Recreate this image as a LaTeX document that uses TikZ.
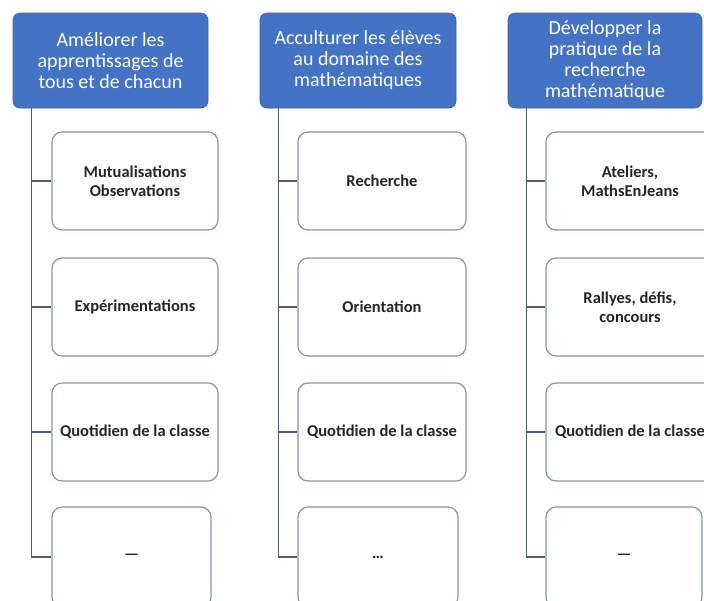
\documentclass[tikz,border=0pt]{standalone}
\usepackage{fontspec}
\setmainfont{Carlito}
\definecolor{headblue}{HTML}{4472C4}
\definecolor{boxline}{HTML}{8A96AE}
\definecolor{connline}{HTML}{4F5B78}
\definecolor{boxtext}{HTML}{262626}
\tikzset{
  head/.style={fill=headblue, draw=headblue!85!black, line width=0.6pt, rounded corners=7pt,
    text=white, align=center, font=\fontsize{20}{21}\selectfont, inner sep=0pt,
    minimum height=95pt},
  child/.style={fill=white, draw=boxline, line width=1.2pt, rounded corners=10pt,
    text=boxtext, align=center, font=\fontsize{16.5}{19}\selectfont\bfseries, inner sep=0pt,
    minimum height=98pt},
  conn/.style={draw=connline, line width=1.5pt}
}
\begin{document}
\begin{tikzpicture}[x=1pt,y=-1pt]
\useasboundingbox (0,0) rectangle (704,600);
\fill[white] (0,0) rectangle (704,600);
\clip (0,0) rectangle (704,600);

% headers
\node[head, minimum width=195pt] (h1) at (110.5,60.5) {Améliorer les\\apprentissages de\\tous et de chacun};
\node[head, minimum width=196pt] (h2) at (358,60.5) {Acculturer les élèves\\au domaine des\\mathématiques};
\node[head, minimum width=194pt] (h3) at (605,60.5) {Développer la\\pratique de la\\recherche\\mathématique};

% column 1
\node[child, minimum width=166pt] (c11) at (135,181) {Mutualisations\\Observations};
\node[child, minimum width=166pt] (c12) at (135,307) {Expérimentations};
\node[child, minimum width=166pt] (c13) at (135,432) {Quotidien de la classe};
\node[child, minimum width=159pt, minimum height=100pt] (c14) at (131.5,557) {—};

% column 2
\node[child, minimum width=168pt] (c21) at (382,181) {Recherche};
\node[child, minimum width=168pt] (c22) at (382,307) {Orientation};
\node[child, minimum width=168pt] (c23) at (382,432) {Quotidien de la classe};
\node[child, minimum width=160pt, minimum height=100pt] (c24) at (378,557) {…};

% column 3
\node[child, minimum width=168pt] (c31) at (630,181) {Ateliers,\\MathsEnJeans};
\node[child, minimum width=168pt] (c32) at (630,307) {Rallyes, défis,\\concours};
\node[child, minimum width=168pt] (c33) at (630,432) {Quotidien de la classe};
\node[child, minimum width=156pt, minimum height=100pt] (c34) at (624,557) {—};

% connectors
\coordinate (v1) at ([xshift=19pt]h1.south west);
\coordinate (v2) at ([xshift=19pt]h2.south west);
\coordinate (v3) at ([xshift=19pt]h3.south west);
\foreach \c in {1,2,3}{
  \draw[conn] (v\c) |- (c\c4.west);
  \foreach \r in {1,2,3}{
    \draw[conn] (v\c |- c\c\r.west) -- (c\c\r.west);
  }
}
\end{tikzpicture}
\end{document}
